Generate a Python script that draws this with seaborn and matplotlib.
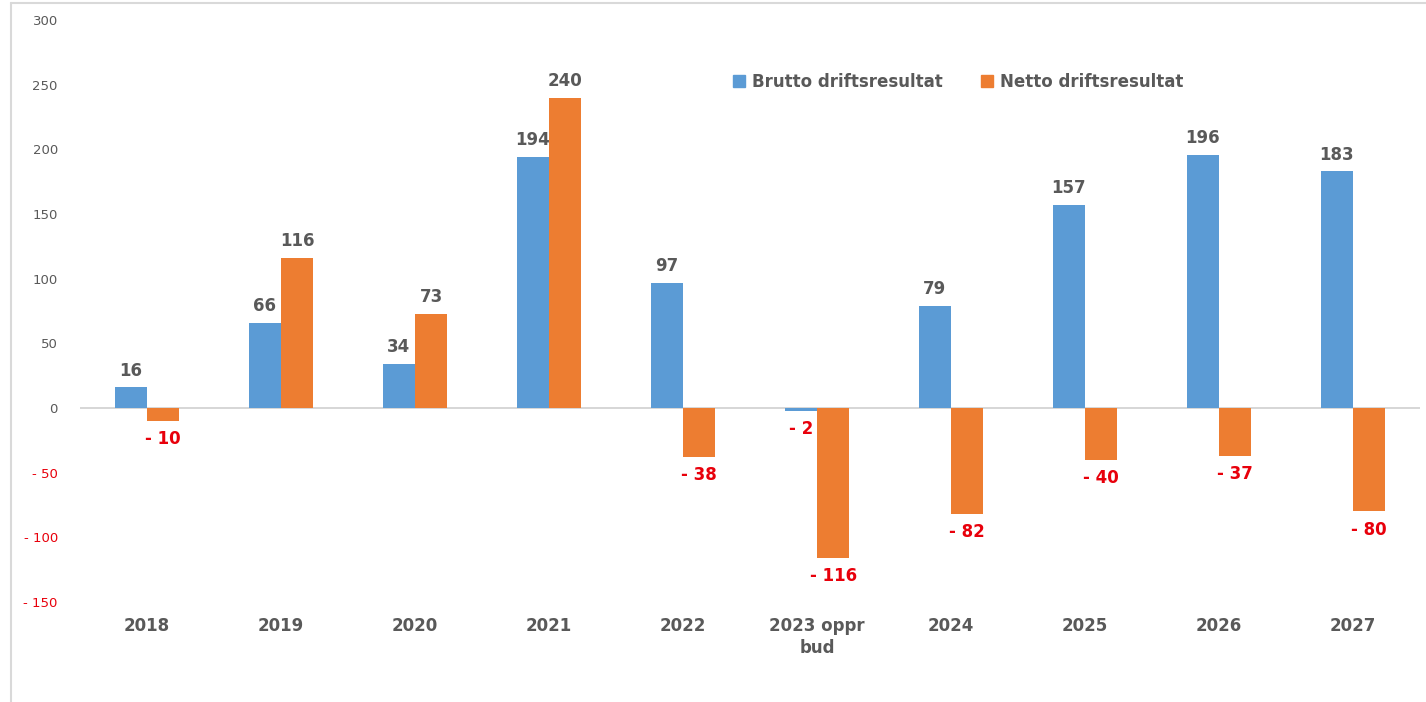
import matplotlib
matplotlib.use("Agg")
import matplotlib.pyplot as plt
import matplotlib.patches as mpatches
from matplotlib.lines import Line2D
from matplotlib.ticker import FuncFormatter, MultipleLocator
import seaborn as sns
import pandas as pd

# ── data ──────────────────────────────────────────────────────────────────────
years  = ["2018", "2019", "2020", "2021", "2022", "2023 oppr\nbud",
          "2024", "2025", "2026", "2027"]
brutto = [16, 66, 34, 194, 97, -2, 79, 157, 196, 183]
netto  = [-10, 116, 73, 240, -38, -116, -82, -40, -37, -80]
series = ["Brutto driftsresultat", "Netto driftsresultat"]

BLUE   = "#5B9BD5"
ORANGE = "#ED7D31"
GREY   = "#595959"
RED    = "#E8000B"

df = pd.DataFrame({
    "year":  years * 2,
    "serie": [series[0]] * len(years) + [series[1]] * len(years),
    "value": brutto + netto,
})

sns.set_style("white")
plt.rcParams["font.family"] = ["DejaVu Sans"]

fig = plt.figure(figsize=(14.26, 7.02), dpi=100)
W, H = 1426, 702
ax = fig.add_axes([80 / W, (H - 602) / H, (1420 - 80) / W, (602 - 20) / H])

sns.barplot(data=df, x="year", y="value", hue="serie", order=years,
            hue_order=series, palette=[BLUE, ORANGE], saturation=1,
            width=0.48, dodge=True, errorbar=None, ax=ax, legend=False,
            linewidth=0, edgecolor="none")

ax.set_ylim(-150, 300)
ax.set_xlim(-0.5, len(years) - 0.5)
ax.axhline(0, color="#d0d0d0", linewidth=1.2, zorder=0)

# data labels
for cont, vals in zip(ax.containers, [brutto, netto]):
    for bar, v in zip(cont, vals):
        x = bar.get_x() + bar.get_width() / 2
        if v >= 0:
            ax.annotate(f"{v}", (x, v), textcoords="offset points", xytext=(0, 12),
                        ha="center", va="center", fontsize=12, fontweight="bold",
                        color=GREY)
        else:
            ax.annotate(f"- {abs(v)}", (x, v), textcoords="offset points",
                        xytext=(0, -13), ha="center", va="center", fontsize=12,
                        fontweight="bold", color=RED)

# axes styling
for s in ax.spines.values():
    s.set_visible(False)
ax.yaxis.set_major_locator(MultipleLocator(50))
ax.yaxis.set_major_formatter(FuncFormatter(
    lambda v, _: f"- {abs(v):.0f}" if v < 0 else f"{v:.0f}"))
ax.tick_params(axis="y", length=0, pad=16, labelsize=9.5, labelcolor=GREY)
ax.tick_params(axis="x", length=0, pad=11)
fig.canvas.draw()
for lab in ax.get_yticklabels():
    if lab.get_text().startswith("-"):
        lab.set_color(RED)
for lab in ax.get_xticklabels():
    lab.set_fontweight("bold")
    lab.set_fontsize(12)
    lab.set_color(GREY)
    lab.set_linespacing(1.3)
ax.set_xlabel("")
ax.set_ylabel("")

# legend
handles = [mpatches.Patch(color=BLUE, label=series[0]),
           mpatches.Patch(color=ORANGE, label=series[1])]
leg = fig.legend(handles=handles, loc="center left", ncol=2, frameon=False,
                 bbox_to_anchor=(718 / W, 1 - 82 / H), handlelength=0.7,
                 handleheight=0.7, handletextpad=0.45, columnspacing=2.3,
                 prop={"size": 12, "weight": "bold"})
for t in leg.get_texts():
    t.set_color(GREY)

# screenshot frame lines
fig.add_artist(Line2D([11 / W, 1], [1 - 3 / H, 1 - 3 / H], color="#d9d9d9",
                      linewidth=1.5, transform=fig.transFigure))
fig.add_artist(Line2D([11 / W, 11 / W], [0, 1 - 3 / H], color="#d9d9d9",
                      linewidth=1.5, transform=fig.transFigure))

fig.savefig("out.png", dpi=100)
